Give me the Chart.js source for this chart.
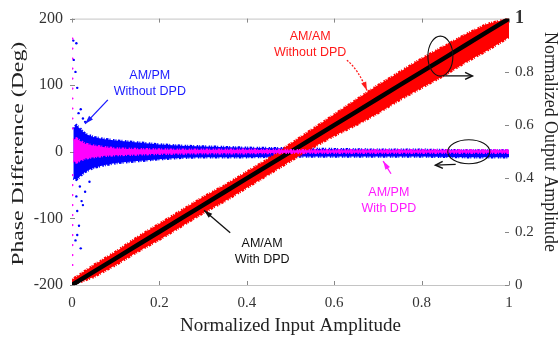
<!DOCTYPE html>
<html>
<head>
<meta charset="utf-8">
<title>AM/AM and AM/PM</title>
<script src="https://cdn.jsdelivr.net/npm/chart.js@4/dist/chart.umd.min.js"></script>
<style>
    html, body { margin: 0; padding: 0; background: #fff; }
    #chart { display: block; }
</style>
</head>
<body>
<canvas id="chart" width="560" height="337"></canvas>
<script>
// Normalized input amplitude samples for the AM/AM curves
const ampX = [0, 0.05, 0.1, 0.15, 0.2, 0.25, 0.3, 0.35, 0.4, 0.45, 0.5, 0.55, 0.6, 0.65, 0.7, 0.75, 0.8, 0.85, 0.9, 0.95, 1];
// AM/AM without DPD: envelope of the red cloud (normalized output)
const amAmNoDpdUpper = [0.02, 0.075, 0.125, 0.18, 0.23, 0.28, 0.33, 0.375, 0.425, 0.475, 0.53, 0.585, 0.64, 0.695, 0.75, 0.8, 0.85, 0.895, 0.94, 0.98, 1.0];
const amAmNoDpdLower = [0, 0.03, 0.075, 0.125, 0.17, 0.22, 0.27, 0.315, 0.365, 0.415, 0.465, 0.515, 0.56, 0.6, 0.645, 0.695, 0.74, 0.785, 0.835, 0.88, 0.93];
// AM/AM with DPD (black)
const amAmDpd = [0, 0.05, 0.1, 0.15, 0.2, 0.25, 0.3, 0.35, 0.4, 0.45, 0.5, 0.55, 0.6, 0.65, 0.7, 0.75, 0.8, 0.85, 0.9, 0.95, 1];

// Input amplitude samples for the AM/PM curves
const pmX = [0.003, 0.01, 0.02, 0.03, 0.05, 0.075, 0.1, 0.15, 0.2, 0.25, 0.3, 0.4, 0.5, 0.6, 0.7, 0.8, 0.9, 1];
// AM/PM without DPD: envelope of the blue cloud (deg)
const amPmNoDpdUpper = [35, 40, 34, 27, 22, 19, 17, 14, 11, 9, 8, 6, 5, 4, 3, 3, 2, 2];
const amPmNoDpdLower = [-40, -42, -36, -30, -24, -20, -17, -14, -11, -9, -8, -8, -7, -7, -7, -7, -8, -8];
// AM/PM with DPD: envelope of the magenta cloud (deg)
const amPmDpdUpper = [18, 20, 16, 12, 9, 7, 5, 4, 3.5, 3, 3, 3, 2.5, 2.5, 2.5, 2.5, 2.5, 2.5];
const amPmDpdLower = [-14, -16, -13, -10, -8, -6, -5, -4, -3, -2.5, -2, -2, -1.5, -1.5, -1.5, -1.5, -1.5, -1.5];

// Stray low-amplitude phase points
const blueOutX = [0.003, 0.01, 0.004, 0.008, 0.012, 0.02, 0.015, 0.025, 0.03, 0.018, 0.01, 0.022, 0.012, 0.016, 0.008, 0.02, 0.012, 0.025, 0.03, 0.04];
const blueOutY = [167, 163, 138, 120, 96, 64, 58, 50, 45, -52, -67, -74, -89, -111, -133, -145, -125, -80, -60, -45];
const pinkOutX = [0.001, 0.001, 0.001, 0.001, 0.001, 0.001, 0.001, 0.001, 0.001, 0.001, 0.001, 0.001, 0.001, 0.001, 0.001, 0.001, 0.001, 0.001, 0.001, 0.001];
const pinkOutY = [170, 155, 140, 125, 110, 95, 80, 65, 50, 35, -35, -50, -65, -80, -95, -110, -125, -140, -155, -170];

// Tick labels
const xTickLabels = ["0", "0.2", "0.4", "0.6", "0.8", "1"];
const phaseTickLabels = ["-200", "-100", "0", "100", "200"];
const ampTickLabels = ["0", "0.2", "0.4", "0.6", "0.8", "1"];

const serif = "'Liberation Serif', 'Times New Roman', serif";
const sans = "'Liberation Sans', Arial, sans-serif";

function pts(xs, ys) {
    return xs.map((x, i) => ({ x: x, y: ys[i] }));
}

// Two envelope lines with the area between them filled; the broken
// border gives the ragged edge of a dense scatter cloud.
function band(xs, upper, lower, color, axis, order) {
    const edge = { borderColor: color, borderWidth: 2.5, borderDash: [1, 1.5, 2.5, 1, 1, 2.5, 1.5, 1], pointRadius: 0 };
    return [
        { ...edge, data: pts(xs, lower), yAxisID: axis, fill: false, order: order },
        { ...edge, data: pts(xs, upper), yAxisID: axis, backgroundColor: color, fill: "-1", order: order }
    ];
}

// Annotation texts and arrows, in data units
const notes = [
    { lines: ["AM/PM", "Without DPD"], color: "#1a1aff", x: 0.178, y: 114, axis: "yPhase" },
    { lines: ["AM/AM", "Without DPD"], color: "#ff1a1a", x: 0.545, y: 0.933, axis: "yAmp" },
    { lines: ["AM/AM", "With DPD"], color: "#111", x: 0.435, y: 0.156, axis: "yAmp" },
    { lines: ["AM/PM", "With DPD"], color: "#ff1aff", x: 0.725, y: -61, axis: "yPhase" }
];
const arrows = [
    { from: [0.082, 78], to: [0.030, 42], axis: "yPhase", color: "#1a1aff", dash: [] },
    { from: [0.629, 0.844], to: [0.675, 0.73], axis: "yAmp", color: "#ff1a1a", dash: [2, 1.5], bend: [0.655, 0.81] },
    { from: [0.362, 0.196], to: [0.302, 0.281], axis: "yAmp", color: "#111", dash: [] },
    { from: [0.730, -33], to: [0.712, -14], axis: "yPhase", color: "#ff1aff", dash: [] }
];
const ellipses = [
    { x: 0.843, y: 0.859, axis: "yAmp", rx: 12.5, ry: 20, arrowFrom: [0.850, 0.785], arrowTo: [0.916, 0.785] },
    { x: 0.908, y: 0, axis: "yPhase", rx: 21, ry: 12, arrowFrom: [0.878, -19], arrowTo: [0.832, -20] }
];

function arrowHead(ctx, x1, y1, x2, y2, color, open) {
    const a = Math.atan2(y2 - y1, x2 - x1);
    const len = open ? 8 : 9, w = open ? 0.45 : 0.3;
    ctx.beginPath();
    ctx.moveTo(x2 - len * Math.cos(a - w), y2 - len * Math.sin(a - w));
    ctx.lineTo(x2, y2);
    ctx.lineTo(x2 - len * Math.cos(a + w), y2 - len * Math.sin(a + w));
    if (open) {
        ctx.strokeStyle = color;
        ctx.lineWidth = 1.6;
        ctx.stroke();
    } else {
        ctx.closePath();
        ctx.fillStyle = color;
        ctx.fill();
    }
}

function stretchedText(ctx, text, cx, cy, length, size, rot) {
    ctx.save();
    ctx.translate(cx, cy);
    ctx.rotate(rot);
    ctx.font = size + "px " + serif;
    const w = ctx.measureText(text).width;
    ctx.scale(length / w, 1);
    ctx.textAlign = "center";
    ctx.textBaseline = "middle";
    ctx.fillStyle = "#222";
    ctx.fillText(text, 0, 0);
    ctx.restore();
}

const framePlugin = {
    id: "frame",
    beforeDatasetsDraw(chart) {
        const ctx = chart.ctx, a = chart.chartArea;
        const xs = chart.scales.x, yp = chart.scales.yPhase, ya = chart.scales.yAmp;
        ctx.save();
        ctx.strokeStyle = "#c4c4c4";
        ctx.lineWidth = 1;
        ctx.beginPath();
        ctx.moveTo(a.left, a.top + 0.5);
        ctx.lineTo(a.right, a.top + 0.5);
        ctx.stroke();
        ctx.strokeStyle = "#888";
        ctx.beginPath();
        xs.ticks.forEach(t => {
            const px = Math.round(xs.getPixelForValue(t.value)) + 0.5;
            ctx.moveTo(px, a.top);
            ctx.lineTo(px, a.top + 4);
            ctx.moveTo(px, a.bottom);
            ctx.lineTo(px, a.bottom - 4);
        });
        yp.ticks.forEach(t => {
            const py = Math.round(yp.getPixelForValue(t.value)) + 0.5;
            ctx.moveTo(a.left - 2, py);
            ctx.lineTo(a.left + 3, py);
        });
        ya.ticks.forEach(t => {
            const py = Math.round(ya.getPixelForValue(t.value)) + 0.5;
            ctx.moveTo(a.right - 4, py);
            ctx.lineTo(a.right, py);
        });
        ctx.stroke();
        ctx.restore();
    },
    afterDraw(chart) {
        const ctx = chart.ctx, a = chart.chartArea;
        stretchedText(ctx, "Phase Difference (Deg)", 19, (a.top + a.bottom) / 2 + 2, 224, 17, -Math.PI / 2);
        stretchedText(ctx, "Normalized Output Amplitude", 550, 142, 220, 18, Math.PI / 2);
        stretchedText(ctx, "Normalized Input Amplitude", (a.left + a.right) / 2, 326, 221, 19, 0);
    }
};

const notesPlugin = {
    id: "notes",
    afterDatasetsDraw(chart) {
        const ctx = chart.ctx, xs = chart.scales.x;
        const px = (v) => xs.getPixelForValue(v);
        ctx.save();
        ctx.font = "12.5px " + sans;
        ctx.textAlign = "center";
        ctx.textBaseline = "middle";
        notes.forEach(n => {
            const ys = chart.scales[n.axis];
            ctx.fillStyle = n.color;
            n.lines.forEach((line, i) => {
                ctx.fillText(line, px(n.x), ys.getPixelForValue(n.y) + i * 16);
            });
        });
        arrows.forEach(ar => {
            const ys = chart.scales[ar.axis];
            const x1 = px(ar.from[0]), y1 = ys.getPixelForValue(ar.from[1]);
            const x2 = px(ar.to[0]), y2 = ys.getPixelForValue(ar.to[1]);
            ctx.strokeStyle = ar.color;
            ctx.lineWidth = 1.3;
            ctx.setLineDash(ar.dash);
            ctx.beginPath();
            ctx.moveTo(x1, y1);
            if (ar.bend) {
                const bx = px(ar.bend[0]), by = ys.getPixelForValue(ar.bend[1]);
                ctx.quadraticCurveTo(bx, by, x2, y2);
                ctx.stroke();
                ctx.setLineDash([]);
                arrowHead(ctx, bx, by, x2, y2, ar.color, false);
            } else {
                ctx.lineTo(x2, y2);
                ctx.stroke();
                ctx.setLineDash([]);
                arrowHead(ctx, x1, y1, x2, y2, ar.color, false);
            }
        });
        ellipses.forEach(e => {
            const ys = chart.scales[e.axis];
            ctx.strokeStyle = "#111";
            ctx.lineWidth = 1.1;
            ctx.beginPath();
            ctx.ellipse(px(e.x), ys.getPixelForValue(e.y), e.rx, e.ry, 0, 0, Math.PI * 2);
            ctx.stroke();
            const x1 = px(e.arrowFrom[0]), y1 = ys.getPixelForValue(e.arrowFrom[1]);
            const x2 = px(e.arrowTo[0]), y2 = ys.getPixelForValue(e.arrowTo[1]);
            ctx.lineWidth = 1.3;
            ctx.beginPath();
            ctx.moveTo(x1, y1);
            ctx.lineTo(x2, y2);
            ctx.stroke();
            arrowHead(ctx, x1, y1, x2, y2, "#111", true);
        });
        ctx.restore();
    }
};

function setupChart() {
    const ctx = document.getElementById("chart").getContext("2d");

    const datasets = [
        {
            type: "scatter", data: pts(pinkOutX, pinkOutY), yAxisID: "yPhase",
            backgroundColor: "#ff00ff", borderWidth: 0, pointRadius: 1.1, order: 0
        },
        ...band(pmX, amPmDpdUpper, amPmDpdLower, "#ff00ff", "yPhase", 1),
        {
            data: pts(ampX, amAmDpd), yAxisID: "yAmp", borderColor: "#000",
            borderWidth: 4.5, pointRadius: 0, fill: false, order: 2
        },
        ...band(ampX, amAmNoDpdUpper, amAmNoDpdLower, "#ff0000", "yAmp", 3),
        {
            type: "scatter", data: pts(blueOutX, blueOutY), yAxisID: "yPhase",
            backgroundColor: "#0000ff", borderWidth: 0, pointRadius: 1.2, order: 4
        },
        ...band(pmX, amPmNoDpdUpper, amPmNoDpdLower, "#0000ff", "yPhase", 5)
    ];

    new Chart(ctx, {
        type: "line",
        data: { datasets: datasets },
        options: {
            responsive: false,
            animation: false,
            layout: { padding: { top: 15, left: 0, right: 0, bottom: 0 } },
            plugins: {
                legend: { display: false },
                tooltip: { enabled: false }
            },
            scales: {
                x: {
                    type: "linear",
                    min: 0,
                    max: 1,
                    grid: { display: false, drawTicks: false },
                    border: { display: true, color: "#c4c4c4" },
                    ticks: {
                        stepSize: 0.2,
                        padding: 9,
                        color: "#333",
                        font: { family: serif, size: 15 },
                        callback: (v, i) => xTickLabels[i]
                    },
                    afterFit: (scale) => { scale.height = 52; }
                },
                yPhase: {
                    position: "left",
                    min: -200,
                    max: 200,
                    grid: { display: false, drawTicks: false },
                    border: { display: false },
                    ticks: {
                        stepSize: 100,
                        padding: 9,
                        color: "#333",
                        font: { family: serif, size: 16 },
                        callback: (v, i) => phaseTickLabels[i]
                    },
                    afterFit: (scale) => { scale.width = 72; }
                },
                yAmp: {
                    position: "right",
                    min: 0,
                    max: 1,
                    grid: { display: false, drawTicks: false },
                    border: { display: false },
                    ticks: {
                        stepSize: 0.2,
                        padding: 6,
                        color: "#333",
                        font: (c) => c.tick && c.tick.value === 1
                            ? { family: serif, size: 18, weight: "bold" }
                            : { family: serif, size: 15 },
                        callback: (v, i) => ampTickLabels[i]
                    },
                    afterFit: (scale) => { scale.width = 51; }
                }
            }
        },
        plugins: [framePlugin, notesPlugin]
    });
}

document.addEventListener("DOMContentLoaded", setupChart);
</script>
</body>
</html>
